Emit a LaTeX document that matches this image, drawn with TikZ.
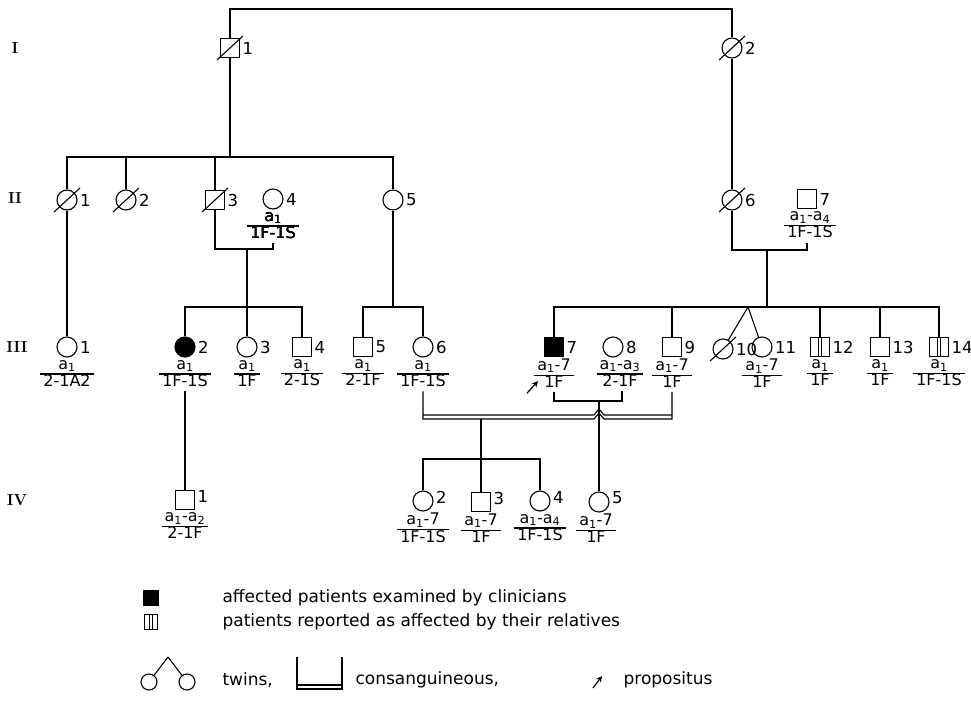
\documentclass[tikz,border=0pt]{standalone}
\usepackage{fontspec}
\setsansfont{DejaVu Sans}
\usetikzlibrary{arrows.meta, positioning, calc}

\newcommand{\genotype}[2]{%
  {\setlength{\tabcolsep}{3pt}\setlength{\arrayrulewidth}{1.1pt}%
   \renewcommand{\arraystretch}{0.82}%
   \begin{tabular}{c}#1\\\hline #2\end{tabular}}}
\newcommand{\aone}{a\textsubscript{1}}
\newcommand{\dead}[1]{\draw[link] ($(#1.center)+(-13,12)$) -- ($(#1.center)+(13,-12)$);}

\begin{document}
\begin{tikzpicture}[
    x=1pt, y=-1pt,
    >=Stealth,
    line width=1.1pt,
    node distance=2pt and 2pt,
    % --- persons ---
    male/.style={draw, rectangle, minimum size=19pt, inner sep=0pt},
    female/.style={draw, circle, minimum size=20pt, inner sep=0pt},
    affected/.style={fill=black},
    reported/.style={path picture={
        \draw ([xshift=-1.8pt]path picture bounding box.north) -- ([xshift=-1.8pt]path picture bounding box.south);
        \draw ([xshift=1.8pt]path picture bounding box.north) -- ([xshift=1.8pt]path picture bounding box.south);}},
    % --- texts ---
    num/.style={font=\sffamily\fontsize{16.5}{16.5}\selectfont, inner sep=0pt},
    geno/.style={font=\sffamily\fontsize{16}{17.5}\selectfont, inner sep=0pt},
    gen/.style={font=\rmfamily\bfseries\fontsize{16}{16}\selectfont, inner sep=0pt},
    legtext/.style={font=\sffamily\fontsize{17}{17}\selectfont, inner sep=0pt},
    % --- lines ---
    link/.style={line width=1.1pt},
    prop/.style={line width=1.2pt, -{Stealth[length=6pt, width=6pt]}},
]
\useasboundingbox (0,0) rectangle (971,703);

% ===== GENERATION I =====
\node[gen] (gI) at (15,48) {I};
\node[male] (I1) at (230,48) {};
\node[female] (I2) at (732,48) {};
\node[num, right=2pt of I1] (nI1) {1};
\node[num, right=2pt of I2] (nI2) {2};
\dead{I1}
\dead{I2}
\coordinate (sib1) at (480,9);
\draw[link] (I1.north) |- (sib1) -| (I2.north);

% ===== GENERATION II =====
\node[gen] (gII) at (15,198) {II};
\node[female] (II1) at (67,200) {};
\node[female] (II2) at (126,200) {};
\node[male] (II3) at (215,200) {};
\node[female] (II4) at (273,199) {};
\node[female] (II5) at (393,200) {};
\node[female] (II6) at (732,200) {};
\node[male] (II7) at (807,199) {};
\foreach \p/\n in {II1/1, II2/2, II3/3, II4/4, II5/5, II6/6, II7/7}
    \node[num, right=2pt of \p] (n\p) {\n};
\foreach \p in {II1, II2, II3, II6}
    \dead{\p}
\node[geno, below=1pt of II4] (gII4) {\genotype{\aone}{1F-1S}};
\node[geno, below=1pt of II7, xshift=3pt] (gII7) {\genotype{\aone-a\textsubscript{4}}{1F-1S}};

% sibship of I-1
\coordinate (sib2) at (230,157);
\draw[link] (I1.south) -- (sib2);
\draw[link] (II1.north) |- (sib2) -| (II5.north);
\foreach \p in {II2, II3}
    \draw[link] (\p.north) -- (\p.north |- sib2);
\draw[link] (I2) -- (II6);

% marriages
\coordinate (m34) at (247,249);
\draw[link] (II3.south) |- (m34) -| (gII4.south);
\coordinate (m67) at (767,250);
\draw[link] (II6.south) |- (m67) -| ([xshift=-3pt]gII7.south);

% ===== GENERATION III =====
\node[gen] (gIII) at (17,347) {III};
\node[female] (III1) at (67,347) {};
\node[female, affected] (III2) at (185,347) {};
\node[female] (III3) at (247,347) {};
\node[male] (III4) at (302,347) {};
\node[male] (III5) at (363,347) {};
\node[female] (III6) at (423,347) {};
\node[male, affected] (III7) at (554,347) {};
\node[female] (III8) at (613,347) {};
\node[male] (III9) at (672,347) {};
\node[female] (III10) at (723,349) {};
\node[female] (III11) at (762,347) {};
\node[male, reported] (III12) at (820,347) {};
\node[male] (III13) at (880,347) {};
\node[male, reported] (III14) at (939,347) {};
\foreach \p/\n in {III1/1, III2/2, III3/3, III4/4, III5/5, III6/6, III7/7,
                   III8/8, III9/9, III10/10, III11/11, III12/12, III13/13, III14/14}
    \node[num, right=2pt of \p] (n\p) {\n};
\dead{III10}

\node[geno, below=1pt of III1] (gIII1) {\genotype{\aone}{2-1A2}};
\node[geno, below=1pt of III2] (gIII2) {\genotype{\aone}{1F-1S}};
\node[geno, below=1pt of III3] (gIII3) {\genotype{\aone}{1F}};
\node[geno, below=1pt of III4] (gIII4) {\genotype{\aone}{2-1S}};
\node[geno, below=1pt of III5] (gIII5) {\genotype{\aone}{2-1F}};
\node[geno, below=1pt of III6] (gIII6) {\genotype{\aone}{1F-1S}};
\node[geno, below=1pt of III7] (gIII7) {\genotype{\aone-7}{1F}};
\node[geno, below=1pt of III8, xshift=7pt] (gIII8) {\genotype{\aone-a\textsubscript{3}}{2-1F}};
\node[geno, below=1pt of III9] (gIII9) {\genotype{\aone-7}{1F}};
\node[geno, below=1pt of III11] (gIII11) {\genotype{\aone-7}{1F}};
\node[geno, below=1pt of III12] (gIII12) {\genotype{\aone}{1F}};
\node[geno, below=1pt of III13] (gIII13) {\genotype{\aone}{1F}};
\node[geno, below=1pt of III14] (gIII14) {\genotype{\aone}{1F-1S}};

% propositus
\draw[prop] ($(gIII7.south)+(-27,1)$) -- ($(gIII7.south)+(-16,-11)$);

% sibships of generation III
\draw[link] (II1) -- (III1);
\coordinate (sib3a) at (247,307);
\draw[link] (m34) -- (sib3a);
\draw[link] (III2.north) |- (sib3a) -| (III4.north);
\draw[link] (III3.north) -- (III3.north |- sib3a);
\coordinate (sib3b) at (393,307);
\draw[link] (II5.south) -- (sib3b);
\draw[link] (III5.north) |- (sib3b) -| (III6.north);
\coordinate (sib3c) at (767,307);
\draw[link] (m67) -- (sib3c);
\draw[link] (III7.north) |- (sib3c) -| (III14.north);
\foreach \p in {III9, III12, III13}
    \draw[link] (\p.north) -- (\p.north |- sib3c);
\coordinate (twin) at (748,307);
\draw[link] (twin) -- (III10);
\draw[link] (twin) -- (III11);

% marriage III-7 x III-8
\coordinate (m78) at (599,401);
\draw[link] (gIII7.south) |- (m78) -| ([xshift=2pt]gIII8.south);

% consanguineous marriage III-6 x III-9
\coordinate (hopL) at (594,419);
\coordinate (hopT) at (599,413);
\coordinate (hopR) at (604,419);
\draw[link] (gIII6.south) |- (hopL) -- (hopT) -- (hopR) -| (gIII9.south);
\draw[link] ($(gIII6.south |- hopL)+(0,-4)$) -- ($(hopL)+(0,-4)$) -- ($(hopT)+(0,-4)$)
    -- ($(hopR)+(0,-4)$) -- ($(gIII9.south |- hopR)+(0,-4)$);

% ===== GENERATION IV =====
\node[gen] (gIV) at (17,500) {IV};
\node[male] (IV1) at (185,500) {};
\node[female] (IV2) at (423,501) {};
\node[male] (IV3) at (481,502) {};
\node[female] (IV4) at (540,501) {};
\node[female] (IV5) at (599,502) {};
\foreach \p/\n in {IV1/1, IV2/2, IV3/3, IV4/4, IV5/5}
    \node[num, right=2pt of \p, yshift=4pt] (n\p) {\n};

\node[geno, below=1pt of IV1] (gIV1) {\genotype{\aone-a\textsubscript{2}}{2-1F}};
\node[geno, below=1pt of IV2] (gIV2) {\genotype{\aone-7}{1F-1S}};
\node[geno, below=1pt of IV3] (gIV3) {\genotype{\aone-7}{1F}};
\node[geno, below=1pt of IV4] (gIV4) {\genotype{\aone-a\textsubscript{4}}{1F-1S}};
\node[geno, below=1pt of IV5, xshift=-3pt] (gIV5) {\genotype{\aone-7}{1F}};

\draw[link] (gIII2.south) -- (IV1.north);
\coordinate (cons) at (481,419);
\coordinate (sib4) at (481,459);
\draw[link] (cons) -- (IV3.north);
\draw[link] (IV2.north) |- (sib4) -| (IV4.north);
\draw[link] (m78) -- (IV5.north);

% ===== LEGEND =====
\node[male, affected, minimum size=15pt] (kAff) at (151,598) {};
\node[legtext, anchor=west] (tAff) at (222,598) {affected patients examined by clinicians};
\node[male, reported, minimum width=13pt, minimum height=15pt] (kRep) at (151,622) {};
\node[legtext, anchor=west] (tRep) at (222,622) {patients reported as affected by their relatives};

\coordinate (ktwin) at (168,657);
\node[female, minimum size=16pt] (kT1) at (149,682) {};
\node[female, minimum size=16pt] (kT2) at (187,682) {};
\draw[link] (ktwin) -- (kT1);
\draw[link] (ktwin) -- (kT2);
\node[legtext, anchor=west] (tTwin) at (222,680) {twins,};

\coordinate (kcA) at (297,657);
\coordinate (kcB) at (342,657);
\coordinate (kcL) at (297,689);
\coordinate (kcR) at (342,689);
\draw[link] (kcA) -- (kcL) -- (kcR) -- (kcB);
\draw[link] ($(kcL)+(0,-4)$) -- ($(kcR)+(0,-4)$);
\node[legtext, anchor=west] (tCons) at (355,680) {consanguineous,};

\coordinate (karr) at (593,688);
\draw[prop] (karr) -- ++(9,-12);
\node[legtext, anchor=east] (tProp) at (713,680) {propositus};

\end{tikzpicture}
\end{document}
